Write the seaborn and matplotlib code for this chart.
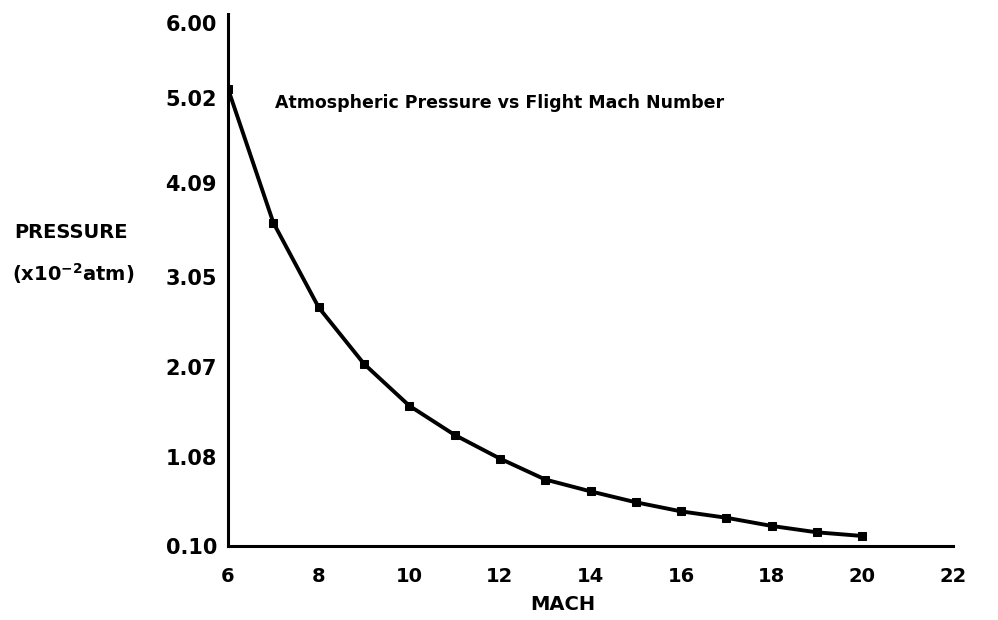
import matplotlib
matplotlib.use("Agg")
import matplotlib.pyplot as plt
import seaborn as sns
import pandas as pd

mach = [6, 7, 8, 9, 10, 11, 12, 13, 14, 15, 16, 17, 18, 19, 20]
pressure = [5.12, 3.65, 2.72, 2.10, 1.64, 1.32, 1.06, 0.83, 0.70, 0.58,
            0.48, 0.41, 0.32, 0.25, 0.21]
x_ticks = [6, 8, 10, 12, 14, 16, 18, 20, 22]
y_tick_pos = [0.10, 1.08, 2.07, 3.05, 4.09, 5.02, 5.84]
y_tick_labels = ["0.10", "1.08", "2.07", "3.05", "4.09", "5.02", "6.00"]
title = "Atmospheric Pressure vs Flight Mach Number"

sns.set_style("white")
plt.rcParams["font.family"] = ["DejaVu Sans"]
plt.rcParams["font.weight"] = "bold"
for key in ["text.color", "axes.labelcolor", "xtick.color", "ytick.color"]:
    plt.rcParams[key] = "black"

df = pd.DataFrame({"MACH": mach, "PRESSURE": pressure})

fig = plt.figure(figsize=(9.98, 6.2), dpi=100)
ax = fig.add_axes([228 / 998, 74 / 620, (953 - 228) / 998, (546 - 14) / 620])

sns.lineplot(data=df, x="MACH", y="PRESSURE", ax=ax, color="black",
             linewidth=2.8, marker="s", markersize=5.5, markeredgecolor="black")

ax.set_xlim(6, 22)
ax.set_ylim(0.10, 5.94)
ax.set_xticks(x_ticks)
ax.set_xticklabels([str(t) for t in x_ticks], fontsize=14, fontweight="bold")
ax.set_yticks(y_tick_pos)
ax.set_yticklabels(y_tick_labels, fontsize=15, fontweight="bold")
ax.tick_params(axis="x", direction="out", length=5, width=2, pad=10)
ax.tick_params(axis="y", direction="out", length=3, width=2, pad=5)
ax.set_xlabel("")
ax.set_ylabel("")

for side in ["top", "right"]:
    ax.spines[side].set_visible(False)
for side in ["left", "bottom"]:
    ax.spines[side].set_color("black")
    ax.spines[side].set_linewidth(2.2)

fig.text(275 / 998, 1 - 103 / 620, title, fontsize=12.5, fontweight="bold",
         ha="left", va="center")
fig.text(563 / 998, 1 - 605 / 620, "MACH", fontsize=14, fontweight="bold",
         ha="center", va="center")
fig.text(14 / 998, 1 - 232 / 620, "PRESSURE", fontsize=14, fontweight="bold",
         ha="left", va="center")
fig.text(12 / 998, 1 - 274 / 620, r"(x10$^{\mathbf{-2}}$atm)", fontsize=14,
         fontweight="bold", ha="left", va="center")

fig.savefig("out.png", dpi=100, facecolor="white")
